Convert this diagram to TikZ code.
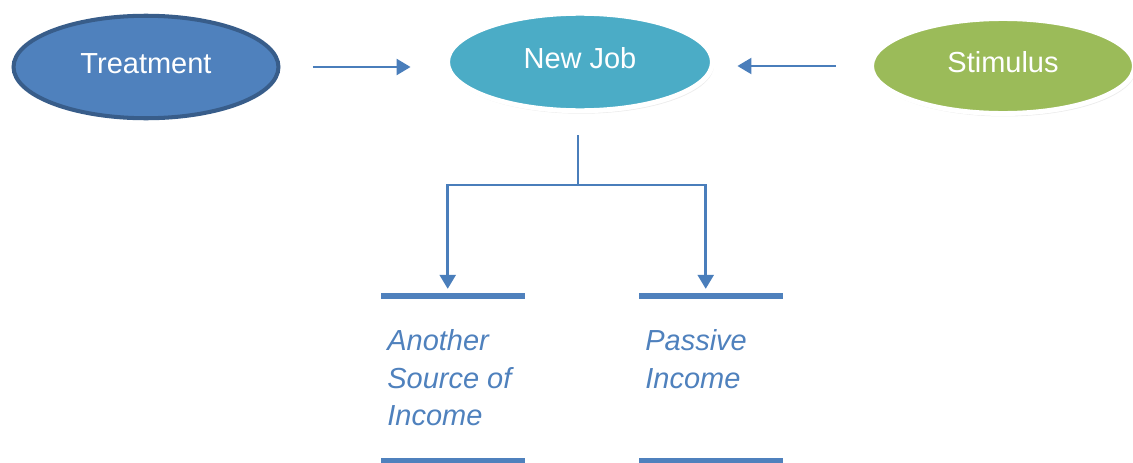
\documentclass[tikz,border=0pt]{standalone}
\usepackage{fontspec}
\setmainfont{Liberation Sans}
\usetikzlibrary{shapes.geometric,arrows.meta,shadows}
\definecolor{treatfill}{HTML}{4F81BD}
\definecolor{treatline}{HTML}{385D8A}
\definecolor{jobfill}{HTML}{4BACC6}
\definecolor{stimfill}{HTML}{9BBB59}
\definecolor{linkblue}{HTML}{4A7EBB}
\tikzset{
  oval/.style={ellipse, text=white, text height=0.42cm, text depth=0.16cm,
    font=\fontsize{16.5}{20}\selectfont},
  glow/.style={draw=white, line width=2.8pt,
    drop shadow={opacity=0.15, shadow xshift=0.3mm, shadow yshift=-0.6mm}},
  link/.style={draw=linkblue, line width=1.7pt, -{Triangle[length=8pt,width=9pt]}},
  bar/.style={rectangle, fill=treatfill, inner sep=0pt, minimum width=2.9cm, minimum height=0.13cm},
  outcome/.style={anchor=north west, inner sep=0pt, align=left, text=treatfill,
    font=\fontsize{16.5}{21.5}\selectfont\itshape}
}
\begin{document}
\begin{tikzpicture}[x=0.02cm, y=-0.02cm]
\useasboundingbox (0,0) rectangle (1133,463);

\node[oval, fill=treatfill, draw=treatline, line width=2.3pt, minimum width=5.3cm, minimum height=2.05cm] (treat) at (146,67) {Treatment};
\node[oval, glow, fill=jobfill, minimum width=5.3cm, minimum height=1.95cm] (job) at (580,62) {New Job};
\node[oval, glow, fill=stimfill, minimum width=5.26cm, minimum height=1.9cm] (stim) at (1003,66) {Stimulus};

\draw[link, shorten <=18.4pt, shorten >=19.6pt] (treat.east) -- (job.west |- treat.east);
\draw[link, shorten <=19pt, shorten >=12.8pt] (stim.west) -- (job.east |- stim.west);

\node[bar] (srctop) at (453,296) {};
\node[bar] (pastop) at (711,296) {};
\node[bar] (srcbot) at (453,461) {};
\node[bar] (pasbot) at (711,461) {};

\coordinate (fork) at (578,185);
\draw[link, -, shorten <=12.5pt] (job.south -| fork) -- (fork);
\draw[link, shorten >=2pt] (fork) -| ([xshift=-3]srctop.north);
\draw[link, shorten >=2pt] (fork) -| ([xshift=-3]pastop.north);

\node[outcome] (src) at (387,329) {Another\\Source of\\Income};
\node[outcome] (pas) at (645,329) {Passive\\Income};

\end{tikzpicture}
\end{document}
